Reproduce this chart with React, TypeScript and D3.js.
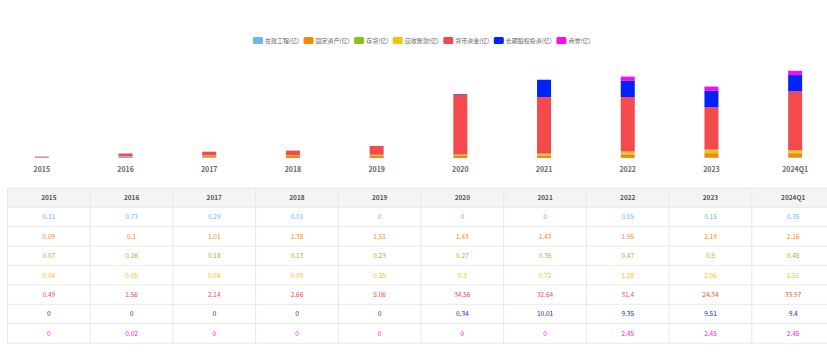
import { useEffect, useRef } from 'react';
import * as d3 from 'd3';

const categories = ['2015', '2016', '2017', '2018', '2019', '2020', '2021', '2022', '2023', '2024Q1'];

const seriesNames = ['在建工程(亿)', '固定资产(亿)', '存货(亿)', '应收账款(亿)', '货币资金(亿)', '长期股权投资(亿)', '商誉(亿)'];
const seriesColors = ['#6cb4f2', '#f7870a', '#8cbf1a', '#f8c010', '#f24a4d', '#0022fb', '#f80cf4'];

const zaijian = [0.11, 0.73, 0.29, 0.01, 0, 0, 0, 0.05, 0.15, 0.35];
const guding = [0.09, 0.1, 1.01, 1.38, 1.51, 1.43, 1.43, 1.95, 2.19, 2.16];
const cunhuo = [0.07, 0.16, 0.18, 0.13, 0.23, 0.27, 0.35, 0.47, 0.5, 0.45];
const yingshou = [0.04, 0.05, 0.04, 0.09, 0.15, 0.3, 0.72, 1.28, 2.06, 1.51];
const huobi = [0.49, 1.56, 2.14, 2.66, 5.06, 34.56, 32.64, 31.4, 24.34, 33.97];
const guquan = [0, 0, 0, 0, 0, 0.34, 10.01, 9.35, 9.51, 9.4];
const shangyu = [0, 0.02, 0, 0, 0, 0, 0, 2.45, 2.45, 2.45];

const seriesValues = [zaijian, guding, cunhuo, yingshou, huobi, guquan, shangyu];

const W = 827;
const H = 361;

export default function App() {
  const svgRef = useRef<SVGSVGElement>(null);

  useEffect(() => {
    if (!svgRef.current) return;
    const svg = d3.select(svgRef.current);
    svg.selectAll('*').remove();
    const font = '"Noto Sans CJK SC", "Noto Sans", sans-serif';

    // Legend
    const legend = svg.append('g').attr('font-family', font);
    let lx = 253;
    seriesNames.forEach((name, i) => {
      legend.append('rect')
        .attr('x', lx).attr('y', 37)
        .attr('width', 10).attr('height', 7)
        .attr('rx', 1.5)
        .attr('fill', seriesColors[i]);
      const t = legend.append('text')
        .attr('x', lx + 12).attr('y', 43)
        .style('font-size', '6px')
        .style('fill', '#666')
        .text(name);
      const tw = (t.node() as SVGTextElement).getComputedTextLength();
      lx += 12 + tw + 4.5;
    });

    // Stacked bars
    const table = categories.map((c, i) => {
      const row: Record<string, number | string> = { cat: c };
      seriesNames.forEach((s, k) => { row[s] = seriesValues[k][i]; });
      return row;
    });
    const stack = d3.stack<Record<string, number | string>>()
      .keys(seriesNames)
      .value((d, key) => d[key] as number);
    const stacked = stack(table);

    const x = d3.scaleBand<string>().domain(categories).range([0, 837]);
    const y = d3.scaleLinear().domain([0, 60]).range([158, 54]);
    const barW = 14;

    const bars = svg.append('g');
    stacked.forEach((layer, k) => {
      bars.selectAll(`.bar-${k}`)
        .data(layer)
        .join('rect')
        .attr('x', (d) => (x(d.data.cat as string) ?? 0) + x.bandwidth() / 2 - barW / 2)
        .attr('y', (d) => y(d[1]))
        .attr('width', barW)
        .attr('height', (d) => Math.max(0, y(d[0]) - y(d[1])))
        .attr('fill', seriesColors[k]);
    });

    // X labels
    svg.append('g')
      .selectAll('text')
      .data(categories)
      .join('text')
      .attr('x', (d) => (x(d) ?? 0) + x.bandwidth() / 2)
      .attr('y', 172)
      .attr('text-anchor', 'middle')
      .style('font-family', font)
      .style('font-size', '7px')
      .style('font-weight', 'bold')
      .style('fill', '#666')
      .text((d) => d);

    // Data table
    const tx = d3.scaleBand<string>().domain(categories).range([7.5, 834.5]);
    const headerTop = 188;
    const headerH = 19.3;
    const rowH = 19.4;
    const tableBottom = headerTop + headerH + rowH * seriesNames.length;
    const tg = svg.append('g').style('font-family', font);

    tg.append('rect')
      .attr('x', 7.5).attr('y', headerTop)
      .attr('width', 827).attr('height', headerH)
      .attr('fill', '#f4f4f4');

    // horizontal lines
    const hLines = [headerTop, ...seriesNames.map((_, k) => headerTop + headerH + rowH * k), tableBottom];
    tg.selectAll('.hline')
      .data(hLines)
      .join('line')
      .attr('x1', 7.5).attr('x2', 834.5)
      .attr('y1', (d) => d).attr('y2', (d) => d)
      .attr('stroke', '#e8e8e8')
      .attr('stroke-width', 1);

    // vertical lines
    tg.selectAll('.vline')
      .data(categories)
      .join('line')
      .attr('x1', (d) => tx(d) ?? 0).attr('x2', (d) => tx(d) ?? 0)
      .attr('y1', headerTop).attr('y2', tableBottom)
      .attr('stroke', '#e8e8e8')
      .attr('stroke-width', 1);

    tg.selectAll('.head')
      .data(categories)
      .join('text')
      .attr('x', (d) => (tx(d) ?? 0) + tx.bandwidth() / 2)
      .attr('y', headerTop + headerH / 2 + 2.3)
      .attr('text-anchor', 'middle')
      .style('font-size', '6.5px')
      .style('font-weight', 'bold')
      .style('fill', '#555')
      .text((d) => d);

    seriesValues.forEach((vals, k) => {
      tg.selectAll(`.cell-${k}`)
        .data(vals)
        .join('text')
        .attr('x', (_, i) => (tx(categories[i]) ?? 0) + tx.bandwidth() / 2)
        .attr('y', headerTop + headerH + rowH * k + rowH / 2 + 2.3)
        .attr('text-anchor', 'middle')
        .style('font-size', '6.5px')
        .style('fill', seriesColors[k])
        .text((d) => String(d));
    });
  }, []);

  return (
    <svg
      ref={svgRef}
      width={W}
      height={H}
      viewBox={`0 0 ${W} ${H}`}
      style={{ position: 'absolute', left: 0, top: 0, background: '#fff' }}
    />
  );
}
